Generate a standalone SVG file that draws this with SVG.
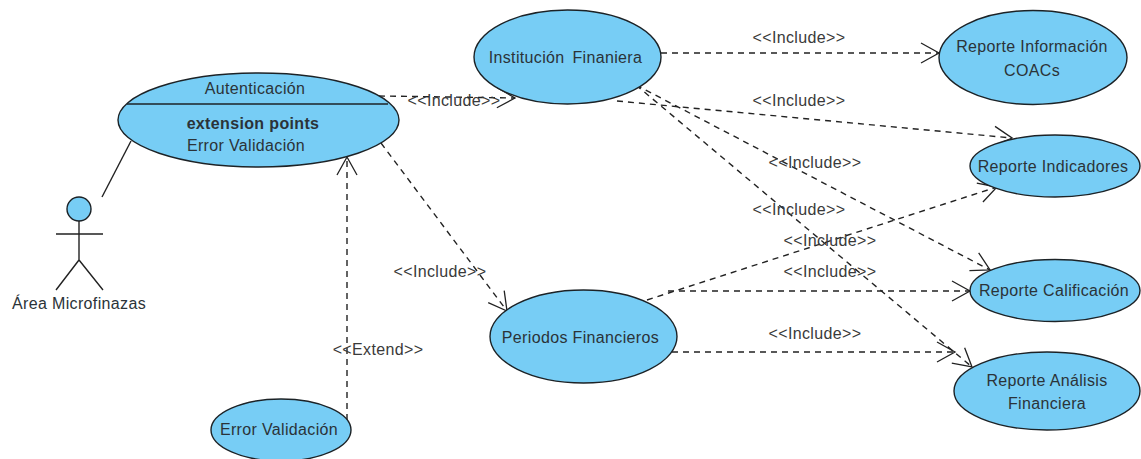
<svg xmlns="http://www.w3.org/2000/svg" width="1141" height="459" viewBox="0 0 1141 459">
<defs>
<marker id="open" markerUnits="userSpaceOnUse" markerWidth="26" markerHeight="26" refX="22" refY="13" orient="auto"><path d="M4 3 L22 13 L4 23" fill="none" stroke="#222" stroke-width="1.3"/></marker>
</defs>
<style>
text{font-family:"Liberation Sans",Arial,sans-serif;font-size:16px;letter-spacing:.35px;fill:#2b3338;text-anchor:middle}
.uc{fill:#77cdf5;stroke:#1c2226;stroke-width:1.4}
.d{fill:none;stroke:#222;stroke-width:1.4;stroke-dasharray:6 5;marker-end:url(#open)}
.s{fill:none;stroke:#222;stroke-width:1.4}
.l{fill:#3a3a3a}
</style>
<g id="connectors">
<path class="s" d="M131 141 L102 197"/>
<path class="d" d="M379 96 L515 98"/>
<path class="d" d="M381 143 L507 311"/>
<path class="d" d="M347 420 L347 157"/>
<path class="d" d="M661 53 L939 53"/>
<path class="d" d="M617 101 L1012 138"/>
<path class="d" d="M636 85 L990 270"/>
<path class="d" d="M636 85 L972 367"/>
<path class="d" d="M647 300 L997 187"/>
<path class="d" d="M668 291 L970 291"/>
<path class="d" d="M672 352 L955 352"/>
</g>
<g id="labels">
<text class="l" x="799" y="43">&lt;&lt;Include&gt;&gt;</text>
<text class="l" x="799" y="106">&lt;&lt;Include&gt;&gt;</text>
<text class="l" x="815" y="168">&lt;&lt;Include&gt;&gt;</text>
<text class="l" x="799" y="215">&lt;&lt;Include&gt;&gt;</text>
<text class="l" x="830" y="246">&lt;&lt;Include&gt;&gt;</text>
<text class="l" x="830" y="277">&lt;&lt;Include&gt;&gt;</text>
<text class="l" x="815" y="339">&lt;&lt;Include&gt;&gt;</text>
<text class="l" x="454" y="106">&lt;&lt;Include&gt;&gt;</text>
<text class="l" x="440" y="277">&lt;&lt;Include&gt;&gt;</text>
<text class="l" x="378" y="355">&lt;&lt;Extend&gt;&gt;</text>
</g>
<g id="autenticacion">
<ellipse class="uc" cx="258.500" cy="120" rx="140.500" ry="47"/>
<line x1="127" y1="104" x2="388" y2="104" stroke="#1c2226" stroke-width="1.4"/>
<text x="255" y="94">Autenticación</text>
<text x="253" y="129" style="font-weight:bold">extension points</text>
<text x="246" y="151">Error Validación</text>
</g>
<g id="actor">
<circle cx="79" cy="209" r="12" fill="#77cdf5" stroke="#1c2226" stroke-width="1.400"/>
<path class="s" d="M79 221 V260 M56 234 H103 M56 290 L79 260 L103 290"/>
<text x="79" y="309">Área Microfinazas</text>
</g>
<g id="institucion">
<ellipse class="uc" cx="567.500" cy="57" rx="93.500" ry="47"/>
<text x="565.500" y="63" style="word-spacing:3px">Institución Finaniera</text>
</g>
<g id="periodos">
<ellipse class="uc" cx="583.500" cy="336.500" rx="93.500" ry="46.500"/>
<text x="580.500" y="343">Periodos Financieros</text>
</g>
<g id="error">
<ellipse class="uc" cx="281" cy="430" rx="70" ry="31"/>
<text x="279" y="435">Error Validación</text>
</g>
<g id="coacs">
<ellipse class="uc" cx="1033" cy="57.500" rx="94" ry="47"/>
<text x="1032" y="52">Reporte Información</text>
<text x="1032" y="76">COACs</text>
</g>
<g id="indicadores">
<ellipse class="uc" cx="1055" cy="166" rx="85" ry="31"/>
<text x="1053" y="172">Reporte Indicadores</text>
</g>
<g id="calificacion">
<ellipse class="uc" cx="1055" cy="290.500" rx="85" ry="31"/>
<text x="1054" y="296">Reporte Calificación</text>
</g>
<g id="analisis">
<ellipse class="uc" cx="1047" cy="391" rx="93" ry="39"/>
<text x="1047" y="386">Reporte Análisis</text>
<text x="1047" y="409">Financiera</text>
</g>
</svg>
